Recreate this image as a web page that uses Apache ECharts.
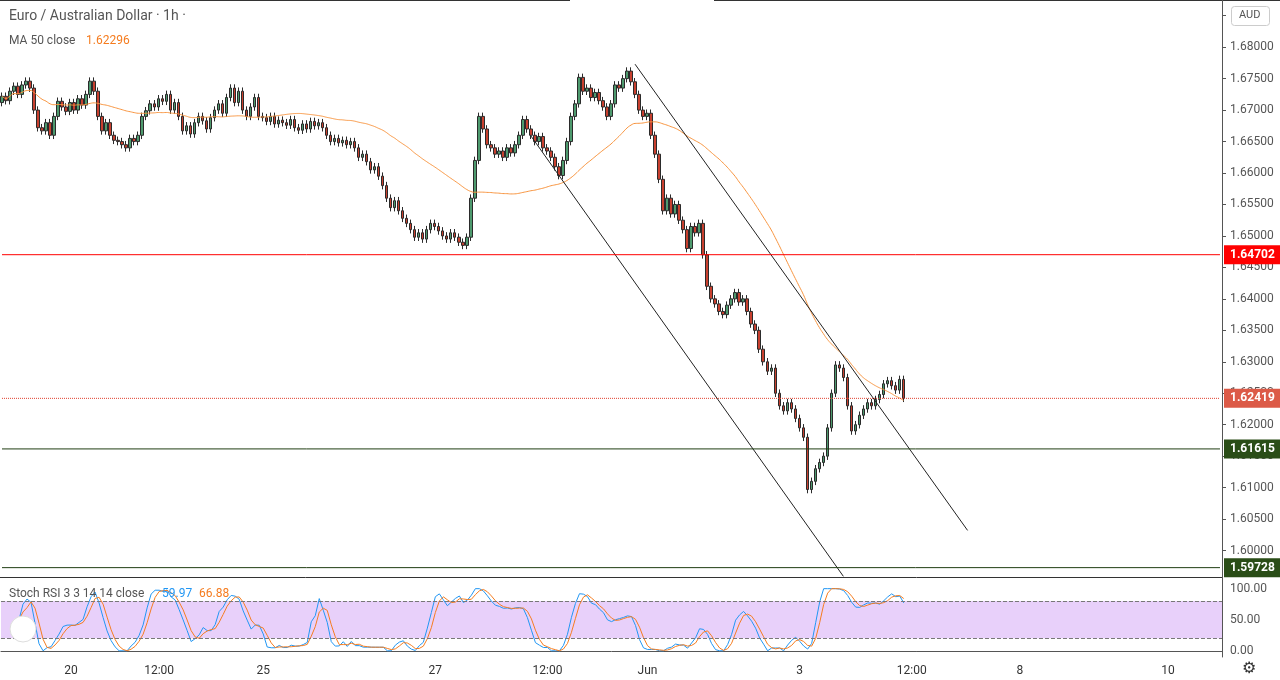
<!DOCTYPE html>
<html>
<head>
<meta charset="utf-8">
<script src="https://cdn.jsdelivr.net/npm/echarts@6/dist/echarts.min.js"></script>
<style>
  html, body { margin: 0; padding: 0; background: #fff; }
  #main { width: 1280px; height: 680px; }
</style>
</head>
<body>
<div id="main"></div>
<script>
// hourly closes, EUR/AUD
var closes = [
  1.6722,1.6715,1.6730,1.6738,1.6725,1.6740,1.6746,1.6735,1.6700,1.6672,
  1.6667,1.6680,1.6660,1.6690,1.6714,1.6705,1.6698,1.6712,1.6700,1.6718,
  1.6708,1.6725,1.6746,1.6730,1.6690,1.6667,1.6680,1.6660,1.6652,1.6650,
  1.6645,1.6640,1.6655,1.6650,1.6660,1.6690,1.6699,1.6710,1.6705,1.6718,
  1.6714,1.6725,1.6700,1.6712,1.6690,1.6667,1.6675,1.6662,1.6680,1.6690,
  1.6683,1.6670,1.6688,1.6700,1.6710,1.6695,1.6720,1.6735,1.6712,1.6730,
  1.6700,1.6690,1.6705,1.6720,1.6690,1.6688,1.6682,1.6690,1.6678,1.6684,
  1.6680,1.6676,1.6685,1.6672,1.6668,1.6678,1.6670,1.6682,1.6675,1.6680,
  1.6672,1.6660,1.6650,1.6655,1.6648,1.6652,1.6645,1.6650,1.6640,1.6625,
  1.6630,1.6618,1.6605,1.6610,1.6595,1.6580,1.6560,1.6545,1.6556,1.6540,
  1.6528,1.6520,1.6510,1.6498,1.6505,1.6495,1.6510,1.6520,1.6515,1.6508,
  1.6500,1.6495,1.6505,1.6498,1.6490,1.6485,1.6498,1.6560,1.6620,1.6690,
  1.6670,1.6645,1.6640,1.6630,1.6635,1.6625,1.6640,1.6632,1.6645,1.6660,
  1.6685,1.6670,1.6660,1.6650,1.6658,1.6640,1.6635,1.6625,1.6610,1.6596,
  1.6620,1.6650,1.6690,1.6710,1.6752,1.6730,1.6735,1.6720,1.6728,1.6715,
  1.6705,1.6690,1.6710,1.6740,1.6735,1.6750,1.6762,1.6745,1.6725,1.6700,
  1.6690,1.6695,1.6660,1.6630,1.6590,1.6540,1.6560,1.6535,1.6550,1.6525,
  1.6510,1.6480,1.6515,1.6505,1.6520,1.6470,1.6420,1.6400,1.6392,1.6380,
  1.6375,1.6390,1.6400,1.6410,1.6395,1.6400,1.6380,1.6360,1.6350,1.6320,
  1.6300,1.6285,1.6290,1.6250,1.6230,1.6222,1.6235,1.6225,1.6210,1.6195,
  1.6180,1.6097,1.6110,1.6130,1.6140,1.6150,1.6195,1.6250,1.6295,1.6290,
  1.6275,1.6230,1.6190,1.6200,1.6215,1.6225,1.6235,1.6230,1.6240,1.6248,
  1.6265,1.6270,1.6262,1.6255,1.6272,1.6242
];
var firstOpen = 1.6712;
var totalSlots = 305;
var tickLabels = { 17: '20', 39: '12:00', 65: '25', 108: '27', 136: '12:00', 161: 'Jun', 199: '3', 227: '12:00', 254: '8', 291: '10' };
var levels = [
  { value: 1.64702, color: '#ff0000', type: 'solid', bg: '#ff0000' },
  { value: 1.62419, color: '#e0402f', type: 'dotted', bg: '#dc5a47' },
  { value: 1.61615, color: '#1f3d12', type: 'solid', bg: '#2a4d17' },
  { value: 1.59728, color: '#1f3d12', type: 'solid', bg: '#2a4d17' }
];
// channel lines: [slot, price]
var upperLine = [[158, 1.6773], [241, 1.6032]];
var lowerLine = [[132, 1.6659], [210, 1.5959]];

var cats = [];
for (var i = 0; i < totalSlots; i++) cats.push(String(i));

var candles = [];
for (var i = 0; i < closes.length; i++) {
  var o = i === 0 ? firstOpen : closes[i - 1];
  var c = closes[i];
  candles.push([o, c, Math.min(o, c) - 0.0006, Math.max(o, c) + 0.0006]);
}

function sma(arr, n) {
  var out = [];
  for (var i = 0; i < arr.length; i++) {
    if (arr[i] == null) { out.push(null); continue; }
    var s = 0, k = 0;
    for (var j = Math.max(0, i - n + 1); j <= i; j++) if (arr[j] != null) { s += arr[j]; k++; }
    out.push(s / k);
  }
  return out;
}
// closes are sampled a bit coarser than the source, so a 40-slot window spans the same time as MA 50
var ma = sma(closes, 40);

// Stoch RSI 3 3 14 14
var rsi = [null];
var ag = 0, al = 0;
for (var i = 1; i < closes.length; i++) {
  var d = closes[i] - closes[i - 1];
  var g = Math.max(d, 0), l = Math.max(-d, 0);
  if (i <= 14) { ag += g / 14; al += l / 14; }
  else { ag = (ag * 13 + g) / 14; al = (al * 13 + l) / 14; }
  rsi.push(i < 4 ? null : (al === 0 ? 100 : 100 - 100 / (1 + ag / al)));
}
var st = [];
for (var i = 0; i < rsi.length; i++) {
  if (rsi[i] == null) { st.push(null); continue; }
  var lo = Infinity, hi = -Infinity;
  for (var j = Math.max(0, i - 13); j <= i; j++) if (rsi[j] != null) { lo = Math.min(lo, rsi[j]); hi = Math.max(hi, rsi[j]); }
  st.push(hi === lo ? 50 : (rsi[i] - lo) / (hi - lo) * 100);
}
var kLine = sma(st, 3);
var dLine = sma(kLine, 3);

function chan(pts) {
  return pts.map(function (p) { return [String(p[0]), p[1]]; });
}

var levelSeries = levels.map(function (lv) {
  return {
    type: 'line', xAxisIndex: 0, yAxisIndex: 0, showSymbol: false, silent: true, z: 5,
    data: [['0', lv.value], [String(totalSlots - 1), lv.value]],
    lineStyle: { color: lv.color, type: lv.type, width: 1 },
    endLabel: { show: true, formatter: lv.value.toFixed(5), color: '#fff', fontWeight: 'bold', fontSize: 12,
      backgroundColor: lv.bg, padding: [4, 6, 3, 6], distance: 4 }
  };
});

var myChart = echarts.init(document.getElementById('main'));
var font = 'Roboto, "Noto Sans", sans-serif';
var option = {
  animation: false,
  textStyle: { fontFamily: font },
  graphic: [
    { type: 'text', left: 9, top: 9, style: { text: 'Euro / Australian Dollar · 1h ·', fill: '#555', font: '14px ' + font } },
    { type: 'text', left: 9, top: 35, style: { text: 'MA 50 close', fill: '#555', font: '12px ' + font } },
    { type: 'text', left: 86, top: 35, style: { text: '1.62296', fill: '#f57c1f', font: '12px ' + font } },
    { type: 'text', left: 9, top: 588, z: 100, style: { text: 'Stoch RSI 3 3 14 14 close', fill: '#555', font: '12px ' + font } },
    { type: 'text', left: 162, top: 588, z: 100, style: { text: '59.97', fill: '#2196f3', font: '12px ' + font } },
    { type: 'text', left: 199, top: 588, z: 100, style: { text: '66.88', fill: '#f57c1f', font: '12px ' + font } },
    { type: 'rect', left: 1226, top: 4, z: 100, shape: { width: 50, height: 24 }, style: { fill: '#fff' } },
    { type: 'rect', left: 1231, top: 6, z: 101, shape: { width: 38, height: 19, r: 3 }, style: { fill: '#fff', stroke: '#ccc' } },
    { type: 'text', left: 1239, top: 10, z: 102, style: { text: 'AUD', fill: '#555', font: '11px ' + font } },
    { type: 'line', shape: { x1: 0, y1: 0.5, x2: 570, y2: 0.5 }, style: { stroke: '#333' } },
    { type: 'line', shape: { x1: 714, y1: 0.5, x2: 1280, y2: 0.5 }, style: { stroke: '#333' } },
    { type: 'line', z: 100, shape: { x1: 0, y1: 577.5, x2: 1222, y2: 577.5 }, style: { stroke: '#333' } },
    { type: 'circle', z: 100, shape: { cx: 23, cy: 629, r: 13 }, style: { fill: '#fff', stroke: '#ddd' } },
    { type: 'text', left: 1242, top: 661, style: { text: '⚙', fill: '#333', font: '16px sans-serif' } }
  ],
  grid: [
    { left: 0, right: 58, top: 0, height: 582 },
    { left: 0, right: 58, top: 575, height: 82 }
  ],
  xAxis: [
    { type: 'category', data: cats, gridIndex: 0, boundaryGap: true, axisLine: { show: false }, axisTick: { show: false }, axisLabel: { show: false }, splitLine: { show: false } },
    { type: 'category', data: cats, gridIndex: 1, boundaryGap: true,
      axisLine: { lineStyle: { color: '#555' } }, axisTick: { show: false },
      axisLabel: { interval: 0, color: '#333', fontSize: 12, margin: 8, formatter: function (v) { return tickLabels[v] || ''; } },
      splitLine: { show: false } }
  ],
  yAxis: [
    { type: 'value', gridIndex: 0, position: 'right', min: 1.595, max: 1.6875, interval: 0.005,
      axisLine: { show: true, lineStyle: { color: '#555' } }, axisTick: { show: true, length: 4, lineStyle: { color: '#555' } },
      axisLabel: { color: '#555', fontSize: 12, margin: 8, showMinLabel: false, showMaxLabel: false, formatter: function (v) { return v.toFixed(5); } },
      splitLine: { show: false } },
    { type: 'value', gridIndex: 1, position: 'right', min: -10, max: 122, interval: 10,
      axisLine: { show: true, lineStyle: { color: '#555' } }, axisTick: { show: false },
      axisLabel: { color: '#555', fontSize: 12, margin: 8, formatter: function (v) { return (v === 0 || v === 50 || v === 100) ? v.toFixed(2) : ''; } },
      splitLine: { show: false } }
  ],
  series: [
    { type: 'candlestick', xAxisIndex: 0, yAxisIndex: 0, data: candles, barWidth: 3,
      itemStyle: { color: '#4e9a6e', color0: '#c8402f', borderColor: '#2b2b2b', borderColor0: '#2b2b2b', borderWidth: 1 } },
    { type: 'line', name: 'MA', xAxisIndex: 0, yAxisIndex: 0, data: ma, showSymbol: false, smooth: true,
      lineStyle: { color: '#f7943f', width: 1 }, z: 3 },
    { type: 'line', xAxisIndex: 0, yAxisIndex: 0, data: chan(upperLine), showSymbol: false, lineStyle: { color: '#222', width: 1 }, z: 4 },
    { type: 'line', xAxisIndex: 0, yAxisIndex: 0, data: chan(lowerLine), showSymbol: false, lineStyle: { color: '#222', width: 1 }, z: 4 },
    { type: 'line', name: 'K', xAxisIndex: 1, yAxisIndex: 1, data: kLine, showSymbol: false,
      lineStyle: { color: '#2196f3', width: 1 },
      markArea: { silent: true, itemStyle: { color: 'rgba(190,120,240,0.35)' }, data: [[{ yAxis: 20 }, { yAxis: 80 }]] },
      markLine: { symbol: 'none', silent: true, label: { show: false },
        lineStyle: { color: '#777', type: 'dashed', width: 1 }, data: [{ yAxis: 80 }, { yAxis: 20 }] } },
    { type: 'line', name: 'D', xAxisIndex: 1, yAxisIndex: 1, data: dLine, showSymbol: false,
      lineStyle: { color: '#f57c1f', width: 1 } }
  ].concat(levelSeries)
};
myChart.setOption(option);
</script>
</body>
</html>
